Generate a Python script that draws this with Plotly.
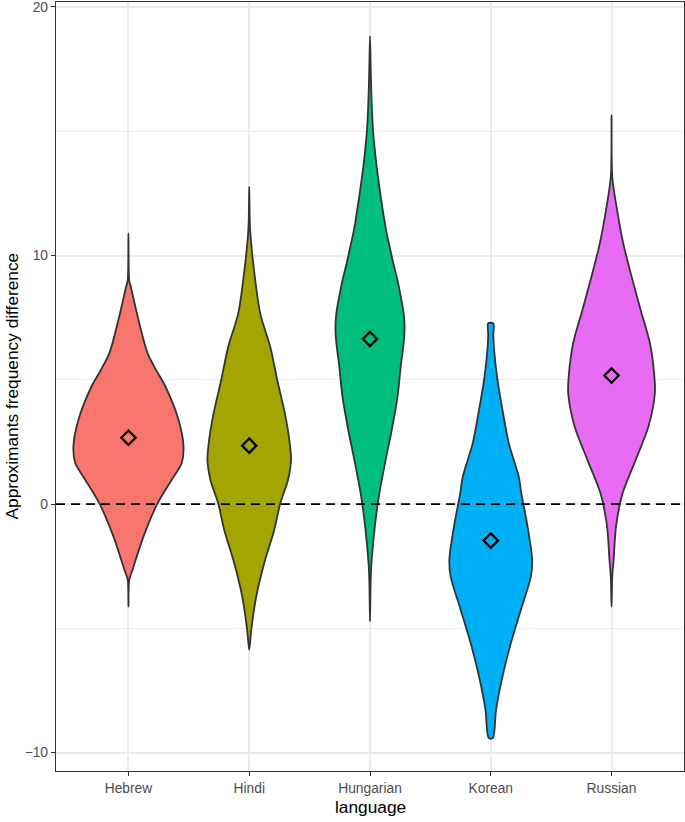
import plotly.graph_objects as go

# ---- data ----
languages = ["Hebrew", "Hindi", "Hungarian", "Korean", "Russian"]
fill_colors = ["#F8766D", "#A3A500", "#00BF7D", "#00B0F6", "#E76BF3"]
means = [2.67, 2.35, 6.64, -1.47, 5.17]

# violin outlines: y positions and half-widths (in category units)
hebrew_y = [10.89, 9.0, 8.75, 7.41, 6.07, 5.4, 4.72, 3.38, 2.31, 1.64, 0.97, 0.03, -1.31, -2.65, -3.05, -4.13]
hebrew_w = [0.0, 0.006, 0.019, 0.083, 0.158, 0.228, 0.307, 0.415, 0.456, 0.44, 0.357, 0.241, 0.124, 0.033, 0.006, 0.0]

hindi_y = [12.77, 11.16, 9.69, 7.67, 6.33, 4.99, 3.65, 2.58, 1.77, 0.97, 0.03, -1.04, -2.38, -3.72, -5.06, -5.87]
hindi_w = [0.0, 0.006, 0.033, 0.091, 0.174, 0.232, 0.295, 0.332, 0.346, 0.321, 0.257, 0.207, 0.124, 0.058, 0.017, 0.0]

hungarian_y = [18.83, 17.5, 16.39, 15.05, 13.71, 12.37, 11.03, 10.3, 9.69, 9.0, 8.34, 7.8, 7.3, 6.8, 6.2, 5.66, 4.32, 2.98, 1.64, 0.30, -1.04, -2.38, -3.19, -4.73]
hungarian_w = [0.0, 0.006, 0.012, 0.025, 0.052, 0.089, 0.133, 0.165, 0.193, 0.228, 0.255, 0.275, 0.285, 0.284, 0.272, 0.257, 0.228, 0.180, 0.124, 0.073, 0.037, 0.012, 0.005, 0.0]

korean_y = [7.27, 6.8, 6.2, 5.12, 3.79, 2.45, 1.10, 0.43, -0.91, -2.25, -2.92, -4.26, -5.60, -6.94, -8.28, -9.42]
korean_w = [0.022, 0.021, 0.028, 0.052, 0.097, 0.149, 0.232, 0.253, 0.305, 0.343, 0.332, 0.249, 0.166, 0.097, 0.044, 0.017]

russian_y = [15.65, 13.17, 11.83, 10.49, 9.15, 7.81, 6.47, 5.12, 4.46, 3.11, 1.77, 0.43, -0.91, -2.25, -2.92, -4.13]
russian_w = [0.0, 0.006, 0.046, 0.097, 0.166, 0.241, 0.318, 0.355, 0.359, 0.305, 0.199, 0.091, 0.037, 0.017, 0.006, 0.0]

profiles = [(hebrew_y, hebrew_w), (hindi_y, hindi_w), (hungarian_y, hungarian_w),
            (korean_y, korean_w), (russian_y, russian_w)]

y_ticks = [-10, 0, 10, 20]

fig = go.Figure()

for i, (ys, ws) in enumerate(profiles):
    c = i + 1
    px = [c + w for w in ws]
    py = list(ys)
    left = list(zip(ys, ws))[::-1]
    if left and left[0][1] == 0:
        left = left[1:]
    if left and left[-1][1] == 0:
        left = left[:-1]
    px += [c - w for (_, w) in left]
    py += [y for (y, _) in left]
    px.append(px[0])
    py.append(py[0])
    fig.add_trace(go.Scatter(
        x=px, y=py, mode="lines", fill="toself",
        fillcolor=fill_colors[i],
        line=dict(color="#333333", width=1.8, shape="spline", smoothing=0.8),
        hoverinfo="skip", showlegend=False,
    ))

fig.add_trace(go.Scatter(
    x=list(range(1, len(languages) + 1)), y=means, mode="markers",
    marker=dict(symbol="diamond-open", size=11, color="black",
                line=dict(color="black", width=2.3)),
    hoverinfo="skip", showlegend=False,
))

fig.add_shape(type="line", xref="paper", x0=0, x1=1, yref="y", y0=0, y1=0,
              line=dict(color="black", width=1.7, dash="9px,6px"))

font_family = "Liberation Sans, Arial, sans-serif"

fig.update_layout(
    width=685, height=822,
    margin=dict(l=56, r=1, t=2, b=51),
    paper_bgcolor="white", plot_bgcolor="white",
    font=dict(family=font_family),
    xaxis=dict(
        range=[0.4, 5.6], automargin=False, ticklabeloverflow="allow",
        tickmode="array", tickvals=list(range(1, len(languages) + 1)), ticktext=languages,
        showgrid=True, gridcolor="#EBEBEB", gridwidth=1.6,
        zeroline=False,
        showline=True, linecolor="#333333", linewidth=1.4, mirror=True,
        ticks="outside", ticklen=4, tickcolor="#333333", tickwidth=1.4,
        tickfont=dict(size=13.8, color="#4D4D4D", family=font_family),
    ),
    yaxis=dict(
        range=[-10.74, 20.2], automargin=False, ticklabeloverflow="allow",
        tickmode="array", tickvals=y_ticks,
        showgrid=True, gridcolor="#EBEBEB", gridwidth=1.6,
        minor=dict(tickmode="array", tickvals=[-5, 5, 15], showgrid=True,
                   gridcolor="#EBEBEB", gridwidth=0.8, ticks=""),
        zeroline=False,
        showline=True, linecolor="#333333", linewidth=1.4, mirror=True,
        ticks="outside", ticklen=4, tickcolor="#333333", tickwidth=1.4,
        tickfont=dict(size=13.8, color="#4D4D4D", family=font_family),
    ),
    annotations=[
        dict(text="language", xref="paper", yref="paper", x=0.5, y=0,
             xanchor="center", yanchor="middle", yshift=-36, showarrow=False,
             font=dict(size=17.3, color="black", family=font_family)),
        dict(text="Approximants frequency difference", xref="paper", yref="paper",
             x=0, y=0.5, xanchor="center", yanchor="middle", xshift=-45,
             textangle=-90, showarrow=False,
             font=dict(size=17.3, color="black", family=font_family)),
    ],
)

fig.write_html("out.html", config={"displayModeBar": False},
               post_script="document.body.style.margin='0';document.body.style.padding='0';")
